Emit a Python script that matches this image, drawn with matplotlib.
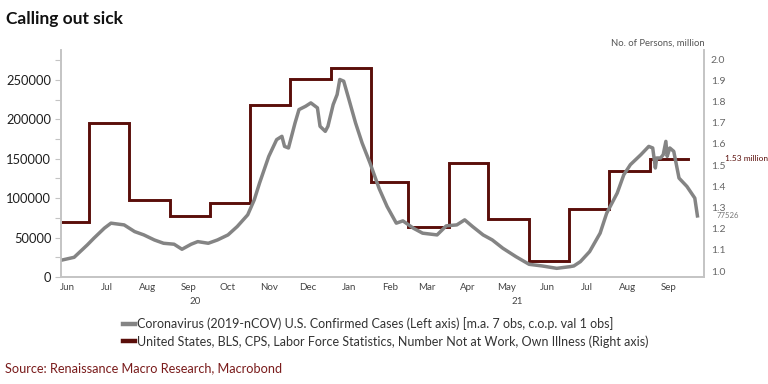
import matplotlib
matplotlib.use("Agg")
import matplotlib.pyplot as plt
import matplotlib.transforms as mtrans
from matplotlib.lines import Line2D
import numpy as np

plt.rcParams['font.family'] = ['Lato', 'DejaVu Sans']

########### DATA ###########
covid_dates = [
    "2020-06-11", "2020-06-20", "2020-06-30", "2020-07-05", "2020-07-13", "2020-07-18",
    "2020-07-28", "2020-08-05", "2020-08-12", "2020-08-20", "2020-08-27", "2020-09-04",
    "2020-09-10", "2020-09-17", "2020-09-22", "2020-09-30", "2020-10-07", "2020-10-15",
    "2020-10-22", "2020-10-30", "2020-11-04", "2020-11-08", "2020-11-15", "2020-11-21",
    "2020-11-25", "2020-11-27", "2020-11-30", "2020-12-05", "2020-12-08", "2020-12-13",
    "2020-12-17", "2020-12-22", "2020-12-24", "2020-12-28", "2020-12-30", "2021-01-03",
    "2021-01-06", "2021-01-08", "2021-01-11", "2021-01-15", "2021-01-20", "2021-01-25",
    "2021-01-31", "2021-02-07", "2021-02-13", "2021-02-20", "2021-02-25", "2021-03-05",
    "2021-03-12", "2021-03-23", "2021-03-30", "2021-04-07", "2021-04-13", "2021-04-19",
    "2021-04-27", "2021-05-04", "2021-05-12", "2021-05-22", "2021-06-01", "2021-06-11",
    "2021-06-22", "2021-07-02", "2021-07-05", "2021-07-10", "2021-07-17", "2021-07-25",
    "2021-07-30", "2021-08-07", "2021-08-12", "2021-08-17", "2021-08-25", "2021-08-31",
    "2021-09-03", "2021-09-05", "2021-09-06", "2021-09-09", "2021-09-11", "2021-09-13",
    "2021-09-14", "2021-09-16", "2021-09-19", "2021-09-23", "2021-09-29", "2021-10-05",
    "2021-10-07",
]
covid_values = [
    21600, 25000, 40700, 49200, 62000, 68300,
    66100, 57600, 53400, 47000, 42800, 41600,
    35200, 41600, 44900, 42800, 47000, 53400,
    64000, 78900, 98000, 119200, 153000, 174300,
    178500, 165700, 163700, 195500, 212400, 216600,
    220900, 214600, 191200, 184800, 191200, 218800,
    231500, 250600, 248400, 225100, 195500, 170000,
    144600, 112000, 89400, 68300, 71200, 61900,
    55600, 53400, 64900, 66100, 72500, 64000,
    53400, 47000, 36500, 25800, 16100, 14000,
    11000, 13100, 14000, 19500, 32200, 55600,
    81000, 106500, 129700, 142500, 155200, 165700,
    163700, 138300, 151000, 151000, 155200, 172100,
    153000, 163700, 159400, 125500, 114900, 100100,
    77526,
]

illness_months = [
    "2020-06", "2020-07", "2020-08", "2020-09", "2020-10", "2020-11", "2020-12",
    "2021-01", "2021-02", "2021-03", "2021-04", "2021-05", "2021-06", "2021-07",
    "2021-08", "2021-09",
]
illness_values = [
    1.233, 1.70, 1.335, 1.26, 1.32, 1.783, 1.906,
    1.959, 1.418, 1.206, 1.51, 1.247, 1.049, 1.294,
    1.473, 1.53,
]

month_ticks = ["Jun", "Jul", "Aug", "Sep", "Oct", "Nov", "Dec", "Jan", "Feb",
               "Mar", "Apr", "May", "Jun", "Jul", "Aug", "Sep"]
year_labels = ["20", "21"]

COVID_LABEL = "Coronavirus (2019-nCOV) U.S. Confirmed Cases (Left axis) [m.a. 7 obs, c.o.p. val 1 obs]"
ILLNESS_LABEL = "United States, BLS, CPS, Labor Force Statistics, Number Not at Work, Own Illness (Right axis)"
############################

GRAY = "#848484"
MAROON = "#5a0e0a"
AXIS_GRAY = "#c4c4c4"

covid_x = np.array(covid_dates, dtype="datetime64[D]")
month_start = np.array(illness_months, dtype="datetime64[M]")
step_x = np.concatenate([month_start.astype("datetime64[D]"),
                         [(month_start[-1] + 1).astype("datetime64[D]") - 1]])
step_x[0] = covid_x[0]
step_y = illness_values + [illness_values[-1]]

fig = plt.figure(figsize=(7.68, 3.84), dpi=100)
ax = fig.add_axes([61 / 768, 1 - 277 / 384, 643 / 768, 227 / 384])
ax2 = ax.twinx()
ax.set_zorder(ax2.get_zorder() + 1)
ax.patch.set_visible(False)

ax2.plot(step_x, step_y, drawstyle="steps-post", color=MAROON, lw=2.1,
         solid_joinstyle="miter")
ax.plot(covid_x, covid_values, color=GRAY, lw=2.5, solid_joinstyle="round")

x0 = np.datetime64("2020-06-10")
x1 = np.datetime64("2021-10-12")
ax.set_xlim(x0, x1)
ax.set_ylim(0, 288000)
ax2.set_ylim(0.972, 2.043)

# left axis
ax.set_yticks(np.arange(0, 250001, 50000))
ax.set_yticks(np.arange(0, 280000, 25000), minor=True)
ax.set_yticklabels([str(v) for v in range(0, 250001, 50000)])
ax.tick_params(axis="y", which="both", direction="out", length=4, width=0.8,
               color=AXIS_GRAY, labelsize=9.3, labelcolor="#1e1e1e", pad=3)

# right axis
ax2.set_yticks(np.round(np.arange(1.0, 2.01, 0.1), 1))
ax2.set_yticklabels([f"{v:.1f}" for v in np.arange(1.0, 2.01, 0.1)])
ax2.tick_params(axis="y", length=0, labelsize=7.5, labelcolor="#666666", pad=5)

# x axis: month labels at mid-month
mids = month_start.astype("datetime64[D]") + 14
ax.set_xticks(mids)
ax.set_xticklabels(month_ticks)
ax.tick_params(axis="x", length=0, labelsize=7, labelcolor="#444444", pad=4)
ax2.tick_params(axis="x", length=0)

for a in (ax, ax2):
    a.spines["top"].set_visible(False)
    for s in ("left", "right", "bottom"):
        a.spines[s].set_color(AXIS_GRAY)
        a.spines[s].set_linewidth(1.2)

# year labels centered on the visible part of each year
trans = mtrans.blended_transform_factory(ax.transData, ax.transAxes)
spans = [(x0, np.datetime64("2021-01-01")), (np.datetime64("2021-01-01"), x1)]
for lab, (a, b) in zip(year_labels, spans):
    c = a + (b - a) / 2
    ax.text(c, -0.108, lab, transform=trans, ha="center", va="center",
            fontsize=7, color="#444444")

# end-value labels
t2 = mtrans.blended_transform_factory(ax.transAxes, ax2.transData)
ax.text(1.033, illness_values[-1], f"{illness_values[-1]:.2f} million", transform=t2,
        ha="left", va="center", fontsize=6, color=MAROON, clip_on=False,
        bbox=dict(facecolor="white", edgecolor="none", pad=0.5))
t1 = mtrans.blended_transform_factory(ax.transAxes, ax.transData)
ax.text(1.019, covid_values[-1], str(covid_values[-1]), transform=t1,
        ha="left", va="center", fontsize=5.6, color="#777777", clip_on=False,
        bbox=dict(facecolor="white", edgecolor="none", pad=0.8))

fig.text(705 / 768, 1 - 43 / 384, "No. of Persons, million", ha="right", va="center",
         fontsize=6.8, color="#555555")
fig.text(6 / 768, 1 - 19 / 384, "Calling out sick", ha="left", va="center",
         fontsize=12.5, fontweight="bold", color="#111111")
fig.text(5 / 768, 1 - 368 / 384, "Source: Renaissance Macro Research, Macrobond",
         ha="left", va="center", fontsize=9.2, color="#7a1c1c")

handles = [Line2D([], [], color=GRAY, lw=3.2), Line2D([], [], color=MAROON, lw=3.2)]
fig.legend(handles, [COVID_LABEL, ILLNESS_LABEL], loc="upper left",
           bbox_to_anchor=(123 / 768, 1 - 317 / 384), frameon=False,
           fontsize=9, handlelength=0.95, handletextpad=0.15, labelspacing=0.4,
           borderpad=0, borderaxespad=0, labelcolor="#333333")

fig.savefig("out.png", dpi=100)
